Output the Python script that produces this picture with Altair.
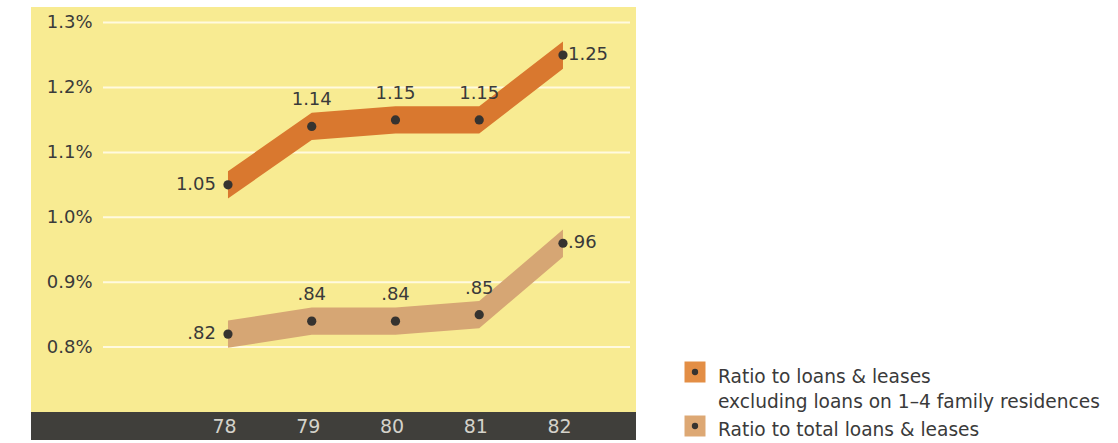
import altair as alt
import pandas as pd

years = [78, 79, 80, 81, 82]
excl_values = [1.05, 1.14, 1.15, 1.15, 1.25]
total_values = [0.82, 0.84, 0.84, 0.85, 0.96]
excl_labels = ["1.05", "1.14", "1.15", "1.15", "1.25"]
total_labels = [".82", ".84", ".84", ".85", ".96"]
y_ticks = [0.8, 0.9, 1.0, 1.1, 1.2, 1.3]
legend_lines = ["Ratio to loans & leases",
                "excluding loans on 1\u20134 family residences",
                "Ratio to total loans & leases"]

ORANGE = "#D9782F"
TAN = "#D6A674"
LEG_ORANGE = "#E38E45"
LEG_TAN = "#DDA874"
YELLOW = "#F8EB92"
DARK = "#403F3B"
DOT = "#363330"
TXT = "#3A3A3A"
HALF = 0.021
FONT = "DejaVu Sans"

W, H = 605, 405

rows = []
for i, yr in enumerate(years):
    pos = "left" if i == 0 else ("right" if i == len(years) - 1 else "top")
    rows.append(dict(year=yr, v=excl_values[i], lo=excl_values[i] - HALF, hi=excl_values[i] + HALF,
                     lab=excl_labels[i], series="excl", pos=pos))
    rows.append(dict(year=yr, v=total_values[i], lo=total_values[i] - HALF, hi=total_values[i] + HALF,
                     lab=total_labels[i], series="total", pos=pos))
df = pd.DataFrame(rows)
ticks_df = pd.DataFrame({"t": y_ticks})

xs = alt.Scale(domain=[75.648, 82.872], nice=False, zero=False)
ys = alt.Scale(domain=[0.70, 1.324], nice=False, zero=False)

base = alt.Chart(df)

bar = alt.Chart(pd.DataFrame({"k": [0]})).mark_rect(color=DARK).encode(
    x=alt.value(0), x2=alt.value(W), y=alt.value(H), y2=alt.value(H + 28),
)

grid = alt.Chart(ticks_df).mark_rule(color="#FFFADF", strokeWidth=2).encode(
    y=alt.Y("t:Q", scale=ys, axis=alt.Axis(
        values=y_ticks, labelExpr="format(datum.value, '.1f') + '%'",
        orient="left", offset=-66, labelPadding=5, domain=False, ticks=False, grid=False,
        labelFontSize=18, labelColor=TXT, labelFont=FONT, title=None)),
    x=alt.value(72), x2=alt.value(599),
)

band_excl = base.transform_filter("datum.series == 'excl'").mark_area(color=ORANGE, opacity=1).encode(
    x=alt.X("year:Q", scale=xs, axis=alt.Axis(
        values=years, format="d", orient="bottom", offset=0, domain=False,
        ticks=False, tickSize=0, labelPadding=14, labelBaseline="middle", labelOffset=-4,
        grid=False, zindex=1,
        labelFontSize=19, labelColor="#D4D2CA", labelFont=FONT, title=None)),
    y=alt.Y("lo:Q", scale=ys), y2="hi:Q",
)
band_total = base.transform_filter("datum.series == 'total'").mark_area(color=TAN, opacity=1).encode(
    x=alt.X("year:Q", scale=xs), y=alt.Y("lo:Q", scale=ys), y2="hi:Q",
)

dots = base.mark_circle(color=DOT, size=85, opacity=1).encode(
    x=alt.X("year:Q", scale=xs), y=alt.Y("v:Q", scale=ys))

def labels(pos, align, dx, dy):
    return base.transform_filter(f"datum.pos == '{pos}'").mark_text(
        align=align, baseline="middle", dx=dx, dy=dy, fontSize=18, font=FONT, color=TXT
    ).encode(x=alt.X("year:Q", scale=xs), y=alt.Y("v:Q", scale=ys), text="lab:N")

lab_left = labels("left", "right", -12, 0)
lab_top = labels("top", "center", 0, -26)
lab_right = labels("right", "left", 5, 0)

# legend
leg_sq = pd.DataFrame({"series": ["excl", "total"], "c": [LEG_ORANGE, LEG_TAN], "yy": [365, 419]})
legend_boxes = alt.Chart(leg_sq).mark_square(size=441, opacity=1).encode(
    x=alt.value(664), y=alt.Y("yy:Q", scale=None),
    color=alt.Color("c:N", scale=None),
)
legend_dots = alt.Chart(leg_sq).mark_circle(size=40, color=DOT, opacity=1).encode(
    x=alt.value(664), y=alt.Y("yy:Q", scale=None, axis=None),
)
leg_txt = pd.DataFrame({"txt": legend_lines, "yy": [370, 395, 423]})
legend_text = alt.Chart(leg_txt).mark_text(
    align="left", baseline="middle", fontSize=18.6, font=FONT, color=TXT
).encode(x=alt.value(687), y=alt.Y("yy:Q", scale=None, axis=None), text="txt:N")

chart = alt.layer(
    bar, grid, band_excl, band_total, dots, lab_left, lab_top, lab_right,
    legend_boxes, legend_dots, legend_text
).properties(
    width=W, height=H,
    padding={"left": 31, "top": 7, "right": 482, "bottom": 31},
    autosize=alt.AutoSizeParams(type="none"),
    background="white",
).configure_view(fill=YELLOW, stroke=None)

chart.save("out.html", embed_options={"renderer": "svg", "actions": False})
